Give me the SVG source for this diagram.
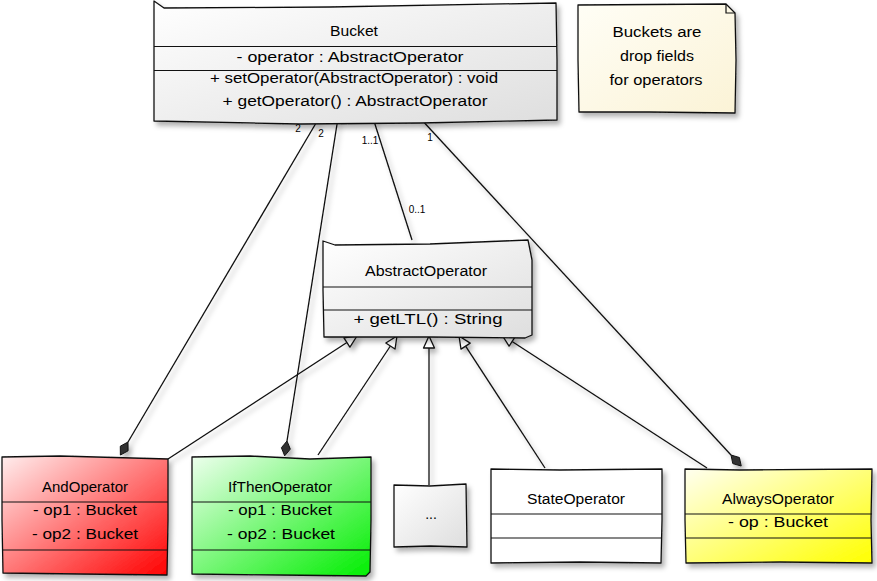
<svg xmlns="http://www.w3.org/2000/svg" width="877" height="581" viewBox="0 0 877 581">
<defs>
<linearGradient id="gGray" x1="0" y1="0" x2="1" y2="1"><stop offset="0" stop-color="#FFFFFF"/><stop offset="1" stop-color="#DEDEDE"/></linearGradient>
<linearGradient id="gNote" x1="0" y1="0" x2="1" y2="1"><stop offset="0" stop-color="#FFFEF6"/><stop offset="1" stop-color="#FBF3D6"/></linearGradient>
<linearGradient id="gRed" x1="0" y1="0" x2="1" y2="1"><stop offset="0" stop-color="#FFEEEE"/><stop offset="1" stop-color="#FF0000"/></linearGradient>
<linearGradient id="gGreen" x1="0" y1="0" x2="1" y2="1"><stop offset="0" stop-color="#EEFFEE"/><stop offset="1" stop-color="#00EE00"/></linearGradient>
<linearGradient id="gYellow" x1="0" y1="0" x2="1" y2="1"><stop offset="0" stop-color="#FFFFF0"/><stop offset="1" stop-color="#FFFF00"/></linearGradient>
<filter id="sh" x="-10%" y="-10%" width="130%" height="130%"><feDropShadow dx="3" dy="4" stdDeviation="2.5" flood-color="#000" flood-opacity="0.3"/></filter>
</defs>
<style>
.box{stroke:#111;stroke-width:1.3;stroke-linejoin:round}
.sep{stroke:#111;stroke-width:1.2;fill:none}
.t{font-family:"Liberation Sans","DejaVu Sans",sans-serif;font-size:14px;fill:#000;text-anchor:middle}
.lbl{font-family:"Liberation Sans","DejaVu Sans",sans-serif;font-size:10px;fill:#000;text-anchor:middle}
.ln{stroke:#111;stroke-width:1.3;fill:none}
.dia{fill:#333;stroke:#111;stroke-width:1}
.tri{fill:#fff;stroke:#111;stroke-width:1.3;stroke-linejoin:round}
</style>

<g id="connectors">
  <g filter="url(#sh)">
    <path class="ln" d="M319,118 L128,442"/>
    <polygon class="dia" points="128,442 128.1,450.8 120.4,455 120.3,446.2"/>
    <path class="ln" d="M338,118 L287,441"/>
    <polygon class="dia" points="287,441 290.3,449.1 284.7,455.8 281.4,447.7"/>
    <path class="ln" d="M373,118 L412,240"/>
    <path class="ln" d="M420,118 L731,455"/>
    <polygon class="dia" points="731,455 739.4,457.5 741.2,466 732.8,463.6"/>

    <path class="ln" d="M168,459 L346.9,342.5"/>
    <polygon class="tri" points="357,336 349.9,347.1 343.9,337.9"/>
    <path class="ln" d="M318,455 L390.4,346"/>
    <polygon class="tri" points="397,336 395,349 385.8,343"/>
    <path class="ln" d="M429,485 L429,348"/>
    <polygon class="tri" points="429,336 434.5,348 423.5,348"/>
    <path class="ln" d="M545,468 L465.6,346.1"/>
    <polygon class="tri" points="459,336 470.2,343.1 461,349.1"/>
    <path class="ln" d="M707,468 L512.1,341.5"/>
    <polygon class="tri" points="502,335 515.1,336.9 509.1,346.1"/>
  </g>
  <text class="lbl" x="298" y="132">2</text>
  <text class="lbl" x="321" y="137">2</text>
  <text class="lbl" x="370" y="144">1..1</text>
  <text class="lbl" x="430" y="141">1</text>
  <text class="lbl" x="417" y="213">0..1</text>
</g>

<g id="Bucket">
  <path class="box" filter="url(#sh)" fill="url(#gGray)" d="M154,1 L164,8 L330,7 L556,3 L557,60 L557,120 L420,123 L300,124 L154,121 L154,60 Z"/>
  <path class="sep" d="M154,46.5 L557,46.5 M154,70.5 L557,70.5"/>
  <text class="t" x="354" y="36" textLength="48" lengthAdjust="spacingAndGlyphs">Bucket</text>
  <text class="t" x="350" y="62" textLength="227" lengthAdjust="spacingAndGlyphs">- operator : AbstractOperator</text>
  <text class="t" x="354" y="83" textLength="288" lengthAdjust="spacingAndGlyphs">+ setOperator(AbstractOperator) : void</text>
  <text class="t" x="355" y="106" textLength="265" lengthAdjust="spacingAndGlyphs">+ getOperator() : AbstractOperator</text>
</g>

<g id="note">
  <path class="box" filter="url(#sh)" fill="url(#gNote)" d="M578,5 L726,4 L735,13 L736,60 L735,113 L650,112 L579,112 L578,60 Z"/>
  <path class="sep" d="M726,4 L726,13 L735,13"/>
  <text class="t" x="657" y="37" textLength="89" lengthAdjust="spacingAndGlyphs">Buckets are</text>
  <text class="t" x="657" y="61" textLength="74" lengthAdjust="spacingAndGlyphs">drop fields</text>
  <text class="t" x="656" y="85" textLength="93" lengthAdjust="spacingAndGlyphs">for operators</text>
</g>

<g id="AbstractOperator">
  <path class="box" filter="url(#sh)" fill="url(#gGray)" d="M323,241 L335,245 L430,244 L528,240 L532,260 L532,335 L525,338 L430,337 L324,337 L323,290 Z"/>
  <path class="sep" d="M323,287 L532,287 M323,310 L532,310"/>
  <text class="t" x="426" y="276" textLength="122" lengthAdjust="spacingAndGlyphs">AbstractOperator</text>
  <text class="t" x="428" y="324" textLength="149" lengthAdjust="spacingAndGlyphs">+ getLTL() : String</text>
</g>

<g id="AndOperator">
  <path class="box" filter="url(#sh)" fill="url(#gRed)" d="M2,457 L60,456 L168,459 L168,520 L167,575 L80,574 L3,573 L2,520 Z"/>
  <path class="sep" d="M2,502 L168,502 M2,550 L168,550"/>
  <text class="t" x="85" y="492" textLength="86" lengthAdjust="spacingAndGlyphs">AndOperator</text>
  <text class="t" x="85" y="515" textLength="104" lengthAdjust="spacingAndGlyphs">- op1 : Bucket</text>
  <text class="t" x="85" y="539" textLength="106" lengthAdjust="spacingAndGlyphs">- op2 : Bucket</text>
</g>

<g id="IfThenOperator">
  <path class="box" filter="url(#sh)" fill="url(#gGreen)" d="M192,457 L250,456 L310,459 L371,457 L371,520 L370,572 L366,576 L280,575 L192,574 L192,520 Z"/>
  <path class="sep" d="M192,502 L371,502 M192,550 L371,550"/>
  <text class="t" x="280" y="492" textLength="104" lengthAdjust="spacingAndGlyphs">IfThenOperator</text>
  <text class="t" x="280" y="515" textLength="104" lengthAdjust="spacingAndGlyphs">- op1 : Bucket</text>
  <text class="t" x="281" y="539" textLength="108" lengthAdjust="spacingAndGlyphs">- op2 : Bucket</text>
</g>

<g id="etc">
  <path class="box" filter="url(#sh)" fill="url(#gGray)" d="M394,485 L430,486 L466,484 L467,547 L430,546 L394,547 Z"/>
  <text class="t" x="431" y="519">...</text>
</g>

<g id="StateOperator">
  <path class="box" filter="url(#sh)" fill="#FFFFFF" d="M491,469 L560,470 L662,469 L662,520 L661,563 L580,562 L491,563 L491,520 Z"/>
  <path class="sep" d="M491,514 L662,514 M491,538 L662,538"/>
  <text class="t" x="576" y="504" textLength="98" lengthAdjust="spacingAndGlyphs">StateOperator</text>
</g>

<g id="AlwaysOperator">
  <path class="box" filter="url(#sh)" fill="url(#gYellow)" d="M685,469 L740,470 L872,469 L871,520 L872,563 L780,562 L686,563 L685,520 Z"/>
  <path class="sep" d="M685,514 L872,514 M685,538 L872,538"/>
  <text class="t" x="778" y="504" textLength="112" lengthAdjust="spacingAndGlyphs">AlwaysOperator</text>
  <text class="t" x="778" y="527" textLength="100" lengthAdjust="spacingAndGlyphs">- op : Bucket</text>
</g>
</svg>
